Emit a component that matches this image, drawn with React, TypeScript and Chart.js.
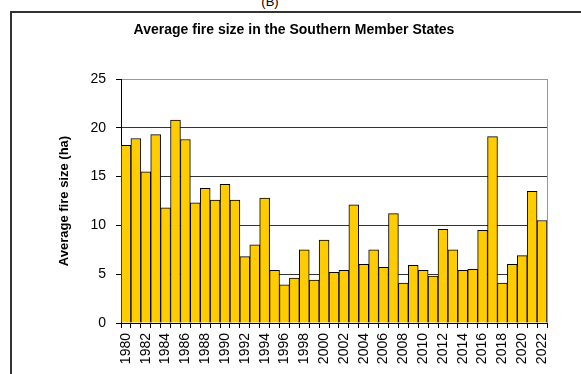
import React, { useEffect, useRef } from "react";
import { Chart, registerables } from "chart.js";

Chart.register(...registerables);

const years: string[] = [
  "1980", "1981", "1982", "1983", "1984", "1985", "1986", "1987", "1988", "1989",
  "1990", "1991", "1992", "1993", "1994", "1995", "1996", "1997", "1998", "1999",
  "2000", "2001", "2002", "2003", "2004", "2005", "2006", "2007", "2008", "2009",
  "2010", "2011", "2012", "2013", "2014", "2015", "2016", "2017", "2018", "2019",
  "2020", "2021", "2022",
];

const avgFireSize: number[] = [
  18.2, 18.9, 15.5, 19.3, 11.8, 20.8, 18.8, 12.3, 13.8, 12.6,
  14.2, 12.6, 6.8, 8.0, 12.8, 5.4, 3.9, 4.6, 7.5, 4.4,
  8.5, 5.2, 5.4, 12.1, 6.0, 7.5, 5.7, 11.2, 4.1, 5.9,
  5.4, 4.8, 9.6, 7.5, 5.4, 5.5, 9.5, 19.1, 4.1, 6.0,
  6.9, 13.5, 10.5,
];

const yTicks: number[] = [0, 5, 10, 15, 20, 25];

const FONT = "'Liberation Sans', Arial, sans-serif";

const plotBorder = {
  id: "plotBorder",
  beforeDatasetsDraw(chart: any) {
    const { ctx, chartArea } = chart;
    ctx.save();
    ctx.strokeStyle = "#999";
    ctx.lineWidth = 1;
    ctx.beginPath();
    ctx.moveTo(chartArea.right + 0.5, chartArea.top);
    ctx.lineTo(chartArea.right + 0.5, chartArea.bottom);
    ctx.stroke();
    ctx.restore();
  },
};

export default function App() {
  const ref = useRef<HTMLCanvasElement | null>(null);

  useEffect(() => {
    if (!ref.current) return;
    const chart = new Chart(ref.current, {
      type: "bar",
      data: {
        labels: years,
        datasets: [
          {
            label: "Average fire size (ha)",
            data: avgFireSize,
            backgroundColor: "#FFCC00",
            borderColor: "#000",
            borderWidth: 1,
            barPercentage: 1,
            categoryPercentage: 1,
          },
        ],
      },
      options: {
        responsive: false,
        animation: false,
        layout: { padding: { left: 41, right: 34, top: 0, bottom: 0 } },
        plugins: {
          legend: { display: false },
          tooltip: { enabled: false },
          title: {
            display: true,
            text: "Average fire size in the Southern Member States",
            color: "#000",
            font: { family: FONT, size: 14, weight: "bold" },
            padding: { top: 21.4, bottom: 40.8 },
          },
        },
        scales: {
          x: {
            afterFit(scale: any) {
              scale.height = 51;
            },
            grid: {
              offset: true,
              drawOnChartArea: false,
              drawTicks: true,
              tickLength: 5,
              color: "#000",
              tickColor: "#000",
            },
            border: { display: true, color: "#000", width: 1 },
            ticks: {
              autoSkip: false,
              maxRotation: 90,
              minRotation: 90,
              padding: 5,
              color: "#000",
              font: { family: FONT, size: 14 },
              callback: (_v: any, i: number) => (i % 2 === 0 ? years[i] : ""),
            },
          },
          y: {
            min: yTicks[0],
            max: yTicks[yTicks.length - 1],
            afterFit(scale: any) {
              scale.width = 80;
            },
            afterBuildTicks(scale: any) {
              scale.ticks = yTicks.map((v) => ({ value: v }));
            },
            grid: {
              color: (c: any) => (c.tick && c.tick.value === 25 ? "#999" : "#333"),
              tickColor: "#000",
              tickLength: 5,
              drawTicks: true,
            },
            border: { display: true, color: "#000", width: 1 },
            ticks: {
              padding: 10,
              color: "#000",
              font: { family: FONT, size: 14 },
            },
            title: {
              display: true,
              text: "Average fire size (ha)",
              color: "#000",
              font: { family: FONT, size: 13, weight: "bold" },
              padding: { top: 16, bottom: 0 },
            },
          },
        },
      },
      plugins: [plotBorder],
    });
    return () => chart.destroy();
  }, []);

  return (
    <div style={{ position: "absolute", left: 0, top: 0, width: 581, height: 374, overflow: "hidden", background: "#fff" }}>
      <div
        style={{
          position: "absolute",
          left: 0,
          width: 540,
          top: -6,
          textAlign: "center",
          fontFamily: FONT,
          fontSize: 13,
          lineHeight: "15px",
          color: "#000",
        }}
      >
        (B)
      </div>
      <div
        style={{
          position: "absolute",
          left: 10,
          top: 11,
          width: 600,
          height: 400,
          borderLeft: "2px solid #333",
          borderTop: "2px solid #333",
        }}
      />
      <canvas ref={ref} width={581} height={374} style={{ position: "absolute", left: 0, top: 0 }} />
    </div>
  );
}
